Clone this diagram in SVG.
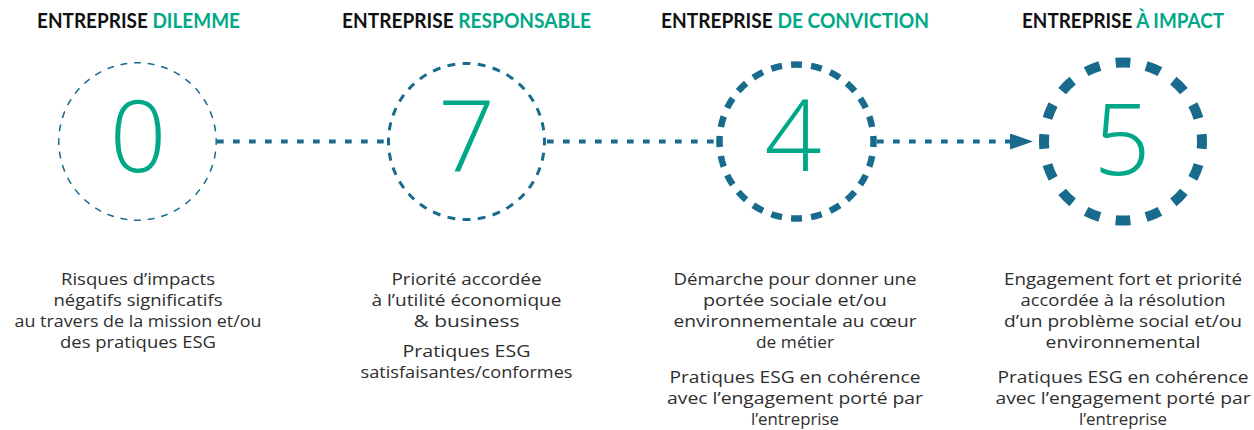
<svg xmlns="http://www.w3.org/2000/svg" width="1254" height="430" viewBox="0 0 1254 430">
<style>
.title{font-family:Lato,"Open Sans","Liberation Sans",sans-serif;font-weight:700;font-size:20px;fill:#111;text-anchor:middle}
.g{fill:#00a887}
.digit{font-family:"Open Sans",Lato,"Liberation Sans",sans-serif;font-weight:300;font-size:100px;fill:#00a887;text-anchor:middle}
.desc{font-family:"Open Sans","DejaVu Sans","Liberation Sans",sans-serif;font-weight:400;font-size:16.5px;fill:#2e2e2e;text-anchor:middle}
.ring{fill:none;stroke:#186b8d}
.conn{fill:none;stroke:#186b8d;stroke-width:4;stroke-dasharray:6.7 9.3}
</style>
<defs>
<marker id="arrow" markerWidth="23" markerHeight="16" refX="0" refY="8" orient="auto" markerUnits="userSpaceOnUse">
<polygon points="0,0 23,8 0,16" fill="#186b8d"/>
</marker>
</defs>

<g id="connectors">
<line class="conn" x1="217" y1="141.5" x2="387" y2="141.5"/>
<line class="conn" x1="547" y1="141.5" x2="716" y2="141.5"/>
<line class="conn" x1="877" y1="141.5" x2="1010" y2="141.5" marker-end="url(#arrow)"/>
</g>

<g id="node-dilemme">
<text class="title" x="138.5" y="28" textLength="203" lengthAdjust="spacingAndGlyphs">ENTREPRISE <tspan class="g">DILEMME</tspan></text>
<circle class="ring" cx="137.5" cy="141.5" r="78.7" stroke-width="1.5" pathLength="360" stroke-dasharray="5 5" stroke-dashoffset="2.5"/>
<text class="digit" x="138" y="172">0</text>
<text class="desc" x="138" y="285" textLength="154" lengthAdjust="spacingAndGlyphs">Risques d’impacts</text>
<text class="desc" x="138" y="306" textLength="169" lengthAdjust="spacingAndGlyphs">négatifs significatifs</text>
<text class="desc" x="138" y="327" textLength="247" lengthAdjust="spacingAndGlyphs">au travers de la mission et/ou</text>
<text class="desc" x="138" y="348" textLength="156" lengthAdjust="spacingAndGlyphs">des pratiques ESG</text>
</g>

<g id="node-responsable">
<text class="title" x="466.5" y="28" textLength="249" lengthAdjust="spacingAndGlyphs">ENTREPRISE <tspan class="g">RESPONSABLE</tspan></text>
<circle class="ring" cx="466.5" cy="141.5" r="78" stroke-width="3" pathLength="320" stroke-dasharray="5.2 4.8" stroke-dashoffset="2.6"/>
<text class="digit" x="466.5" y="172">7</text>
<text class="desc" x="466.5" y="285" textLength="150" lengthAdjust="spacingAndGlyphs">Priorité accordée</text>
<text class="desc" x="466.5" y="306" textLength="190" lengthAdjust="spacingAndGlyphs">à l’utilité économique</text>
<text class="desc" x="466.5" y="327" textLength="106" lengthAdjust="spacingAndGlyphs">&amp; business</text>
<text class="desc" x="466.5" y="357" textLength="128" lengthAdjust="spacingAndGlyphs">Pratiques ESG</text>
<text class="desc" x="466.5" y="378" textLength="212" lengthAdjust="spacingAndGlyphs">satisfaisantes/conformes</text>
</g>

<g id="node-conviction">
<text class="title" x="795" y="28" textLength="268" lengthAdjust="spacingAndGlyphs">ENTREPRISE <tspan class="g">DE CONVICTION</tspan></text>
<circle class="ring" cx="796.5" cy="141.5" r="77" stroke-width="6.5" pathLength="240" stroke-dasharray="5.5 4.5" stroke-dashoffset="2.75"/>
<text class="digit" x="793" y="171">4</text>
<text class="desc" x="795" y="285" textLength="243" lengthAdjust="spacingAndGlyphs">Démarche pour donner une</text>
<text class="desc" x="795" y="306" textLength="184" lengthAdjust="spacingAndGlyphs">portée sociale et/ou</text>
<text class="desc" x="795" y="327" textLength="243" lengthAdjust="spacingAndGlyphs">environnementale au cœur</text>
<text class="desc" x="795" y="348" textLength="78" lengthAdjust="spacingAndGlyphs">de métier</text>
<text class="desc" x="795" y="383" textLength="251" lengthAdjust="spacingAndGlyphs">Pratiques ESG en cohérence</text>
<text class="desc" x="795" y="404" textLength="256" lengthAdjust="spacingAndGlyphs">avec l’engagement porté par</text>
<text class="desc" x="795" y="425" textLength="88" lengthAdjust="spacingAndGlyphs">l’entreprise</text>
</g>

<g id="node-impact">
<text class="title" x="1123" y="28" textLength="202" lengthAdjust="spacingAndGlyphs">ENTREPRISE <tspan class="g">À IMPACT</tspan></text>
<circle class="ring" cx="1123" cy="141.5" r="79" stroke-width="10" pathLength="160" stroke-dasharray="4.8 5.2" stroke-dashoffset="2.4"/>
<text class="digit" x="1122" y="175">5</text>
<text class="desc" x="1123" y="285" textLength="238" lengthAdjust="spacingAndGlyphs">Engagement fort et priorité</text>
<text class="desc" x="1123" y="306" textLength="205" lengthAdjust="spacingAndGlyphs">accordée à la résolution</text>
<text class="desc" x="1123" y="327" textLength="238" lengthAdjust="spacingAndGlyphs">d’un problème social et/ou</text>
<text class="desc" x="1123" y="348" textLength="155" lengthAdjust="spacingAndGlyphs">environnemental</text>
<text class="desc" x="1123" y="383" textLength="251" lengthAdjust="spacingAndGlyphs">Pratiques ESG en cohérence</text>
<text class="desc" x="1123" y="404" textLength="255" lengthAdjust="spacingAndGlyphs">avec l’engagement porté par</text>
<text class="desc" x="1123" y="425" textLength="88" lengthAdjust="spacingAndGlyphs">l’entreprise</text>
</g>
</svg>
